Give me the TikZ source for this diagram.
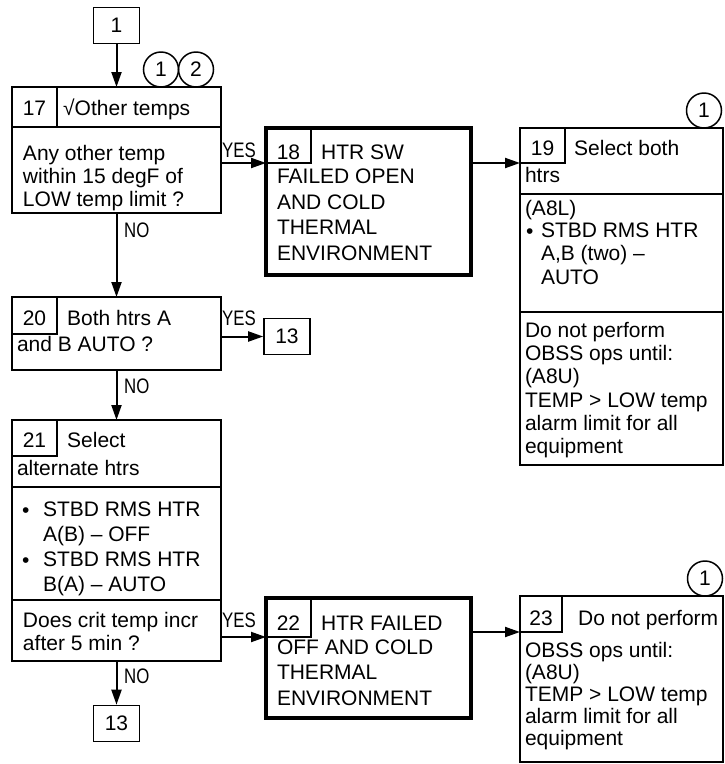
\documentclass[tikz,border=0pt]{standalone}
\usepackage{fontspec}
\setmainfont{Liberation Sans}
\usepackage{graphicx}
\usetikzlibrary{arrows.meta}

\newcommand{\narrow}[1]{\scalebox{0.8}[1]{#1}}

\begin{document}
\begin{tikzpicture}[x=1pt, y=-1pt,
  font=\fontsize{21}{23.3}\selectfont,
  frame/.style={draw, line width=2pt, inner sep=0pt, outer sep=0pt, anchor=north west},
  heavy/.style={frame, line width=4.5pt},
  cell/.style={draw, line width=1.6pt, inner sep=0pt, outer sep=0pt, anchor=north west, minimum width=45pt},
  ref/.style={draw, line width=1.6pt, inner sep=0pt, minimum width=46pt, minimum height=36pt},
  note/.style={draw, circle, line width=1.5pt, inner sep=0pt, minimum size=35pt},
  txt/.style={inner sep=0pt, outer sep=0pt, align=left, anchor=north west},
  lbl/.style={inner sep=0pt, anchor=base west},
  rule/.style={line width=1.8pt},
  arr/.style={line width=2pt, -{Triangle[length=15pt, width=10pt]}}]

  \useasboundingbox (0,0) rectangle (725,764);

  %% ---- Left column ----
  \node[ref] (top) at (116.5,25.5) {1};

  %% Block 17
  \node[frame, minimum width=209pt, minimum height=126pt] (b17) at (12,87) {};
  \node[cell, text height=28pt, text depth=12pt] (c17) at (b17.north west) {17};
  \draw[rule] (c17.south east) -- (c17.south east -| b17.east);
  \node[lbl] (h17) at ([xshift=6pt]c17.base east) {√Other temps};
  \node[txt] (t17) at (23,145) {Any other temp\\within 15 degF of\\LOW temp limit ?};
  \node[note] (n17a) at (161,69.5) {1};
  \node[note] (n17b) at (196,69.5) {2};

  %% Block 20
  \node[frame, minimum width=209pt, minimum height=73pt] (b20) at (12,297) {};
  \node[cell, text height=28pt, text depth=9pt] (c20) at (b20.north west) {20};
  \node[lbl] (h20) at ([xshift=10pt]c20.base east) {Both htrs A};
  \node[txt] (t20) at (17,336) {and B AUTO ?};
  \node[ref] (r13a) at (287,336.5) {13};

  %% Block 21
  \node[frame, minimum width=209pt, minimum height=241pt] (b21) at (12,420) {};
  \node[cell, text height=27pt, text depth=9pt] (c21) at (b21.north west) {21};
  \node[lbl] (h21) at ([xshift=10pt]c21.base east) {Select};
  \node[txt] (t21) at (17,460) {alternate htrs};
  \draw[rule] (12,487) -- (221,487);
  \node[lbl] (d21a) at (22,517) {•};
  \node[txt, font=\fontsize{21}{24.6}\selectfont] (s21a) at (43,502) {STBD RMS HTR\\A(B) – OFF};
  \node[lbl] (d21b) at (22,567) {•};
  \node[txt, font=\fontsize{21}{24.6}\selectfont] (s21b) at (43,552) {STBD RMS HTR\\B(A) – AUTO};
  \draw[rule] (12,600) -- (221,600);
  \node[txt] (q21) at (23,612) {Does crit temp incr\\after 5 min ?};
  \node[ref] (r13b) at (116.5,723.5) {13};

  %% ---- Thick boxes ----
  \node[heavy, minimum width=205pt, minimum height=147pt] (b18) at (266,128) {};
  \node[cell, text height=31pt, text depth=4pt] (c18) at (b18.north west) {18};
  \node[lbl] (h18) at ([xshift=10pt]c18.base east) {HTR SW};
  \node[txt, font=\fontsize{21}{25.5}\selectfont] (t18) at (277,169)
    {FAILED OPEN\\AND COLD\\THERMAL\\ENVIRONMENT};

  \node[heavy, minimum width=205pt, minimum height=120pt] (b22) at (266,598) {};
  \node[cell, text height=32pt, text depth=7pt] (c22) at (b22.north west) {22};
  \node[lbl] (h22) at ([xshift=10pt]c22.base east) {HTR FAILED};
  \node[txt, font=\fontsize{21}{25.3}\selectfont] (t22) at (277,640)
    {OFF AND COLD\\THERMAL\\ENVIRONMENT};

  %% ---- Right column ----
  %% Block 19
  \node[frame, minimum width=203pt, minimum height=337pt] (b19) at (520,128) {};
  \node[cell, text height=27pt, text depth=8pt] (c19) at (b19.north west) {19};
  \node[lbl] (h19) at ([xshift=9pt]c19.base east) {Select both};
  \node[txt] (t19) at (525,167) {htrs};
  \draw[rule] (520,194) -- (723,194);
  \node[txt] (p19) at (525,200) {(A8L)};
  \node[lbl] (d19) at (526,238) {•};
  \node[txt] (s19) at (541,223) {STBD RMS HTR\\A,B (two) –\\AUTO};
  \draw[rule] (520,312) -- (723,312);
  \node[txt] (q19) at (525,322)
    {Do not perform\\OBSS ops until:\\(A8U)\\TEMP > LOW temp\\alarm limit for all\\equipment};
  \node[note] (n19) at (704,110.5) {1};

  %% Block 23
  \node[frame, minimum width=203pt, minimum height=166pt] (b23) at (520,596) {};
  \node[cell, minimum width=42pt, text height=29pt, text depth=7pt] (c23) at (b23.north west) {23};
  \node[lbl] (h23) at ([xshift=16pt]c23.base east) {Do not perform};
  \node[txt, font=\fontsize{21}{22}\selectfont] (t23) at (525,642)
    {OBSS ops until:\\(A8U)\\TEMP > LOW temp\\alarm limit for all\\equipment};
  \node[note] (n23) at (705,578.5) {1};

  %% ---- Connectors ----
  \draw[arr] (top.south) -- (b17.north);
  \draw[arr] (b17.south) -- (b20.north);
  \draw[arr] (b20.south) -- (b21.north);
  \draw[arr] (b21.south) -- (r13b.north);
  \draw[arr] (b17.east |- c18.south west) -- (c18.south west);
  \draw[arr] (b20.east |- r13a.west) -- (r13a.west);
  \draw[arr] (b21.east |- c22.south west) -- (c22.south west);
  \draw[arr] (b18.east |- c19.south west) -- (c19.south west);
  \draw[arr] (b22.east |- c23.south west) -- (c23.south west);

  %% Labels
  \node[lbl] (yes17) at (222,157) {\narrow{YES}};
  \node[lbl] (yes20) at (222,325) {\narrow{YES}};
  \node[lbl] (yes21) at (222,627) {\narrow{YES}};
  \node[lbl] (no17) at (124,237) {\narrow{NO}};
  \node[lbl] (no20) at (124,393) {\narrow{NO}};
  \node[lbl] (no21) at (124,683) {\narrow{NO}};

\end{tikzpicture}
\end{document}
